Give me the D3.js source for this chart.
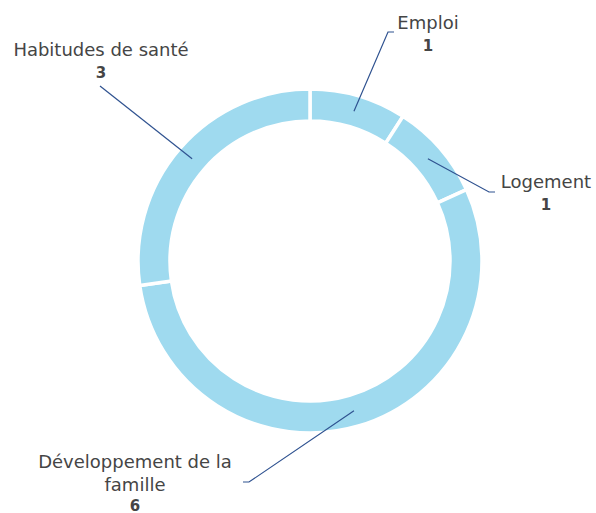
<!DOCTYPE html>
<html>
<head>
<meta charset="utf-8">
<script src="https://cdn.jsdelivr.net/npm/d3@7"></script>
<style>
  body { margin: 0; background: #fff; }
  svg { display: block; }
</style>
</head>
<body>
<svg id="chart" width="596" height="513"></svg>
<script>
var categories = ['Emploi', 'Logement', 'Développement de la famille', 'Habitudes de santé'];
var values = [1, 1, 6, 3];
// how each label wraps in the picture
var labelLines = [['Emploi'], ['Logement'], ['Développement de la', 'famille'], ['Habitudes de santé']];

var WIDTH = 596, HEIGHT = 513;
var CX = 310, CY = 261;
var OUTER = 172, INNER = 140;
var RING_COLOUR = '#9fdaef';
var LINE_COLOUR = '#2f5290';
var TEXT_COLOUR = '#454545';

// elbow of each leader line, where the label sits, and which way the short tail goes
var labelLayout = [
  { elbow: [388, 32], tail: 6, tx: 428, ty: 29, gap: 22 },
  { elbow: [489, 192], tail: 6, tx: 546, ty: 188, gap: 22 },
  { elbow: [249, 482], tail: -6, tx: 135, ty: 468, gap: 20 },
  { elbow: [100, 86], tail: 0, tx: 101, ty: 56, gap: 22 }
];

var data = categories.map((c, i) => ({ name: c, value: values[i], lines: labelLines[i], layout: labelLayout[i] }));

var svg = d3.select('#chart');
var g = svg.append('g').attr('transform', 'translate(' + CX + ',' + CY + ')');

var pie = d3.pie().value((d) => d.value).sort(null);
var arc = d3.arc().innerRadius(INNER).outerRadius(OUTER);
var arcs = pie(data);

g.selectAll('path.slice')
  .data(arcs)
  .enter().append('path')
  .attr('class', 'slice')
  .attr('d', arc)
  .attr('fill', RING_COLOUR)
  .attr('stroke', '#fff')
  .attr('stroke-width', 3.5);

// leader lines
svg.selectAll('polyline.leader')
  .data(arcs)
  .enter().append('polyline')
  .attr('class', 'leader')
  .attr('fill', 'none')
  .attr('stroke', LINE_COLOUR)
  .attr('stroke-width', 1.2)
  .attr('points', (d) => {
    var c = arc.centroid(d);
    var e = d.data.layout.elbow;
    return [[c[0] + CX, c[1] + CY], e, [e[0] + d.data.layout.tail, e[1]]].map((p) => p.join(',')).join(' ');
  });

// labels
var labels = svg.selectAll('text.label')
  .data(arcs)
  .enter().append('text')
  .attr('class', 'label')
  .attr('text-anchor', 'middle')
  .attr('font-family', '"Century Gothic", "DejaVu Sans", sans-serif')
  .attr('fill', TEXT_COLOUR);

labels.each(function(d) {
  var t = d3.select(this);
  var lay = d.data.layout;
  d.data.lines.forEach((line, j) => {
    t.append('tspan')
      .attr('x', lay.tx)
      .attr('y', lay.ty + j * 23)
      .attr('font-size', '18px')
      .text(line);
  });
  t.append('tspan')
    .attr('x', lay.tx)
    .attr('y', lay.ty + (d.data.lines.length - 1) * 23 + lay.gap)
    .attr('font-size', '15px')
    .attr('font-weight', 'bold')
    .text(d.data.value);
});
</script>
</body>
</html>
